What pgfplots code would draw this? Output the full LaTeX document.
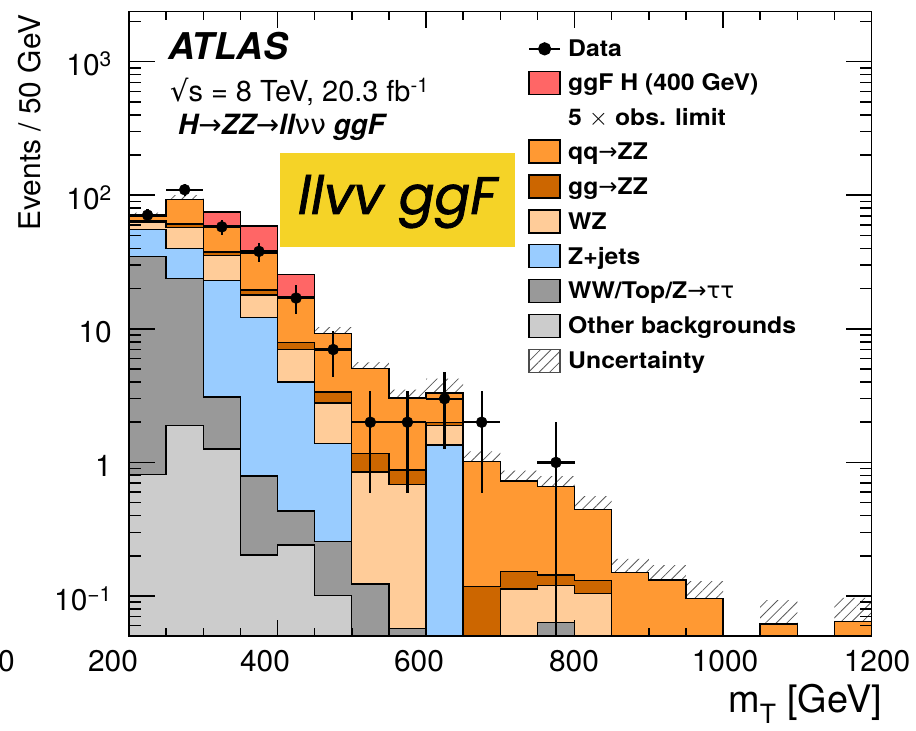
\documentclass[border=0pt]{standalone}
\usepackage{fontspec}
\setmainfont{TeX Gyre Heros}
\newfontfamily\symf{DejaVu Sans}
\newfontfamily\boxf[FakeBold=1.5]{Poppins}
\newfontfamily\legf[FakeStretch=1.08]{TeX Gyre Heros}
\usepackage{pgfplots}
\pgfplotsset{compat=1.18}
\usepackage{pgfplotstable}
\usepgfplotslibrary{fillbetween}
\usetikzlibrary{patterns.meta}

\definecolor{sigc}{RGB}{255,102,102}
\definecolor{qqc}{RGB}{255,153,51}
\definecolor{ggc}{RGB}{204,102,0}
\definecolor{wzc}{RGB}{255,204,153}
\definecolor{zjc}{RGB}{153,204,255}
\definecolor{wwc}{RGB}{153,153,153}
\definecolor{othc}{RGB}{204,204,204}
\definecolor{boxyellow}{RGB}{245,211,39}

\pgfplotsset{
  hbox/.style={legend image code/.code={\draw[##1,line width=1.3bp] (0bp,-11.5bp) rectangle (31bp,11.5bp);}},
  nobox/.style={legend image code/.code={\path[draw=none,fill=none] (0bp,-11.5bp) rectangle (31bp,11.5bp);}},
  dleg/.style={legend image code/.code={\path[draw=none,fill=none] (0bp,-11.5bp) rectangle (31bp,11.5bp);\draw[mark repeat=2,mark phase=2,##1] plot coordinates {(0bp,0bp) (15.5bp,0bp) (31bp,0bp)};}},
  hatch/.style={pattern={Lines[angle=45,distance=7.5bp,line width=0.8bp]}, pattern color=black!65},
}

% cumulative stack tops per 50 GeV bin (left edges); first and last rows close the outline below the axis
\pgfplotstableread{
x    oth    ww     zj     wz     gg     qq     sig    up     lo
200  0.001  0.001  0.001  0.001  0.001  0.001  0.001  0.001  0.001
200  0.81   34.6   55.7   62.5   64.3   69.3   69.3   74.2   64.4
250  1.88   23.9   40.0   57.4   60.8   93.4   93.4   100    86.9
300  1.26   3.09   22.9   35.2   37.7   59.0   75.0   63.1   54.9
350  0.203  0.79   12.2   17.9   19.5   36.9   59.0   39.5   34.3
400  0.241  0.433  4.0    7.0    7.86   17.4   25.4   18.6   16.2
450  0.101  0.256  1.39   2.79   3.37   9.18   9.18   10.3   8.08
500  0.001  0.123  0.123  0.85   1.17   5.03   5.03   5.63   4.43
550  0.001  0.057  0.057  0.685  0.877  3.04   3.04   3.50   2.58
600  0.001  0.001  1.35   1.90   1.98   3.31   3.31   4.24   2.38
650  0.001  0.001  0.001  0.001  0.118  1.01   1.01   1.21   0.81
700  0.001  0.001  0.001  0.113  0.153  0.726  0.726  0.87   0.58
750  0.001  0.063  0.063  0.120  0.144  0.659  0.659  0.79   0.53
800  0.001  0.001  0.001  0.105  0.130  0.446  0.446  0.56   0.33
850  0.001  0.001  0.001  0.001  0.001  0.150  0.150  0.19   0.11
900  0.001  0.001  0.001  0.001  0.001  0.132  0.132  0.17   0.092
950  0.001  0.001  0.001  0.001  0.001  0.0955 0.0955 0.129  0.062
1000 0.001  0.001  0.001  0.001  0.001  0.001  0.001  0.001  0.001
1050 0.001  0.001  0.001  0.001  0.001  0.0618 0.0618 0.093  0.031
1100 0.001  0.001  0.001  0.001  0.001  0.001  0.001  0.001  0.001
1150 0.001  0.001  0.001  0.001  0.001  0.0648 0.0648 0.097  0.032
1200 0.001  0.001  0.001  0.001  0.001  0.0648 0.0648 0.097  0.032
1200 0.001  0.001  0.001  0.001  0.001  0.001  0.001  0.001  0.001
}\hist

\pgfplotstableread{
x    y    ex  eyp   eym
225  71   25  8.43  8.43
275  110  25  10.49 10.49
325  58   25  7.62  7.62
375  38   25  6.16  6.16
425  17   25  4.12  4.12
475  7    25  2.65  2.65
525  2    25  1.41  1.41
575  2    25  1.41  1.41
625  3    25  1.73  1.73
675  2    25  1.41  1.41
775  1    25  1.0   0.999
}\data

\begin{document}
\begin{tikzpicture}
\begin{axis}[
  at={(129bp,95bp)}, anchor=south west,
  scale only axis, width=742.5bp, height=624.3bp,
  ymode=log,
  xmin=200, xmax=1200, ymin=0.0502, ymax=2366,
  axis on top,
  axis line style={line width=1.5bp},
  tick align=inside,
  xtick={200,400,600,800,1000,1200},
  xticklabels={},
  minor xtick={250,300,350,450,500,550,650,700,750,850,900,950,1050,1100,1150},
  ytick={0.1,1,10,100,1000},
  yticklabels={10\textsuperscript{−1},1,10,10\textsuperscript{2},10\textsuperscript{3}},
  minor ytick={0.06,0.07,0.08,0.09,0.2,0.3,0.4,0.5,0.6,0.7,0.8,0.9,2,3,4,5,6,7,8,9,20,30,40,50,60,70,80,90,200,300,400,500,600,700,800,900,2000},
  tick style={line width=1.5bp, black},
  xtick style={/pgfplots/major tick length=16bp,/pgfplots/minor tick length=8bp},
  ytick style={/pgfplots/major tick length=26bp,/pgfplots/minor tick length=12bp},
  yticklabel style={font=\fontsize{30}{36}\selectfont, inner sep=0pt, anchor=base east, xshift=-17bp, yshift=-14bp},
  xlabel={m\textsubscript{T} [GeV]},
  xlabel style={at={(axis description cs:1.0141,-0.1233)}, anchor=base east, font=\fontsize{38}{44}\selectfont, inner sep=0pt},
  ylabel={Events / 50 GeV},
  ylabel style={at={(axis description cs:-0.1333,0.995)}, anchor=east, font=\fontsize{30}{36}\selectfont, inner sep=0pt},
  legend style={at={(axis description cs:0.5374,0.9589)}, anchor=north west, draw=none, fill=none, inner sep=0pt, outer sep=0pt, row sep=10.6bp, column sep=7bp, font=\legf\bfseries\fontsize{23}{26}\selectfont, nodes={inner sep=0pt}},
  legend cell align=left,
]
% stacked histogram, drawn from the top layer down
\addplot[const plot, fill=sigc, draw=black, line width=1.3bp, forget plot] table[x=x,y=sig]{\hist};
\addplot[const plot, fill=qqc,  draw=black, line width=1.3bp, forget plot] table[x=x,y=qq]{\hist};
\addplot[const plot, fill=ggc,  draw=black, line width=1.3bp, forget plot] table[x=x,y=gg]{\hist};
\addplot[const plot, fill=wzc,  draw=black, line width=1.3bp, forget plot] table[x=x,y=wz]{\hist};
\addplot[const plot, fill=zjc,  draw=black, line width=1.3bp, forget plot] table[x=x,y=zj]{\hist};
\addplot[const plot, fill=wwc,  draw=black, line width=1.3bp, forget plot] table[x=x,y=ww]{\hist};
\addplot[const plot, fill=othc, draw=black, line width=1.3bp, forget plot] table[x=x,y=oth]{\hist};
% uncertainty band
\addplot[const plot, draw=none, name path=up, forget plot] table[x=x,y=up]{\hist};
\addplot[const plot, draw=none, name path=lo, forget plot] table[x=x,y=lo]{\hist};
\addplot[hatch, draw=none, forget plot] fill between[of=up and lo];
% data
\addplot[only marks, mark=*, mark size=5.5bp, black, forget plot,
  error bars/.cd, x dir=both, x explicit, y dir=both, y explicit, error mark=none,
  error bar style={line width=2.2bp, black}]
  table[x=x, y=y, x error=ex, y error plus=eyp, y error minus=eym]{\data};

\addlegendimage{dleg, black, line width=2.2bp, mark=*, mark size=5.5bp}
\addlegendentry{Data}
\addlegendimage{hbox, fill=sigc, draw=black}
\addlegendentry{ggF H (400 GeV)}
\addlegendimage{nobox}
\addlegendentry{5 $\times$ obs. limit}
\addlegendimage{hbox, fill=qqc, draw=black}
\addlegendentry{qq{\symf\mdseries →}ZZ}
\addlegendimage{hbox, fill=ggc, draw=black}
\addlegendentry{gg{\symf\mdseries →}ZZ}
\addlegendimage{hbox, fill=wzc, draw=black}
\addlegendentry{WZ}
\addlegendimage{hbox, fill=zjc, draw=black}
\addlegendentry{Z+jets}
\addlegendimage{hbox, fill=wwc, draw=black}
\addlegendentry{WW/Top/Z{\symf\mdseries →ττ}}
\addlegendimage{hbox, fill=othc, draw=black}
\addlegendentry{Other backgrounds}
\addlegendimage{hbox, hatch, draw=black!70}
\addlegendentry{Uncertainty}

\node[anchor=base west, inner sep=0pt, font=\bfseries\itshape\fontsize{37}{40}\selectfont] at (axis description cs:0.0525,0.9242) {ATLAS};
\node[anchor=base west, inner sep=0pt, font=\fontsize{29}{34}\selectfont] at (axis description cs:0.0552,0.8554) {{\symf √}s = 8 TeV, 20.3 fb\textsuperscript{-1}};
\node[anchor=base west, inner sep=0pt, font=\bfseries\itshape\fontsize{28}{32}\selectfont] at (axis description cs:0.066,0.8025) {H{\symf\mdseries\upshape →}ZZ{\symf\mdseries\upshape →}ll{\symf\mdseries\upshape νν} ggF};

\node[fill=boxyellow, minimum width=235bp, minimum height=94bp, inner sep=0pt] at (axis description cs:0.3616,0.6989) {};
\node[anchor=base, inner sep=0pt, font=\boxf\itshape\fontsize{53}{58}\selectfont] at (axis description cs:0.3616,0.676) {llvv ggF};
\end{axis}
% x tick labels, placed as in the reference
\begin{scope}[every node/.style={anchor=north, inner sep=0pt, font=\fontsize{30}{36}\selectfont}]
\node at (113bp,81bp) {200};
\node at (265bp,81bp) {400};
\node at (419bp,81bp) {600};
\node at (574bp,81bp) {800};
\node at (725bp,81bp) {1000};
\node at (877bp,81bp) {1200};
\node[anchor=north east] at (15bp,81bp) {0};
\end{scope}
\pgfresetboundingbox
\path[use as bounding box] (0,0) rectangle (916bp,731bp);
\end{tikzpicture}
\end{document}
